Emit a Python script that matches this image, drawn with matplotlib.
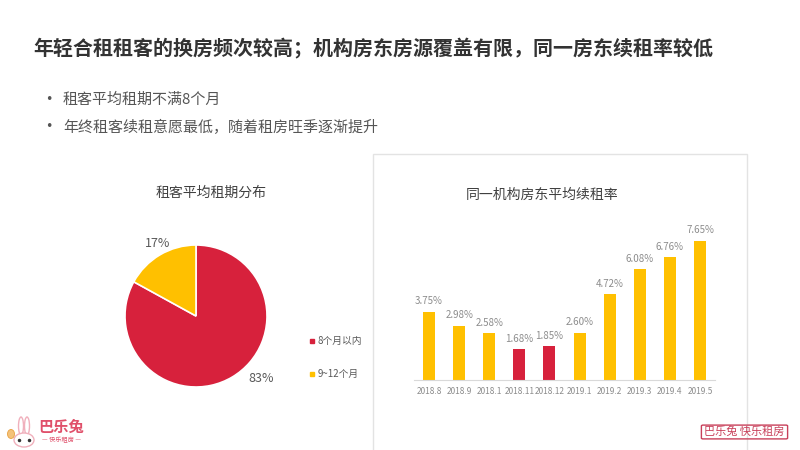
import matplotlib
matplotlib.use('Agg')
import matplotlib.pyplot as plt
from matplotlib.patches import Rectangle, FancyBboxPatch, Ellipse

plt.rcParams['font.family'] = ['Noto Sans CJK SC', 'DejaVu Sans']

RED = '#D7213C'
YEL = '#FFC000'
GRAY = '#8c8c8c'
PINK = '#E0506A'

title = '年轻合租租客的换房频次较高；机构房东房源覆盖有限，同一房东续租率较低'
bullets = ['租客平均租期不满8个月', '年终租客续租意愿最低，随着租房旺季逐渐提升']

pie_title = '租客平均租期分布'
pie_labels = ['8个月以内', '9~12个月']
pie_values = [83, 17]

bar_title = '同一机构房东平均续租率'
months = ['2018.8', '2018.9', '2018.1', '2018.11', '2018.12',
          '2019.1', '2019.2', '2019.3', '2019.4', '2019.5']
rates = [3.75, 2.98, 2.58, 1.68, 1.85, 2.60, 4.72, 6.08, 6.76, 7.65]
low_months = ['2018.11', '2018.12']

W, H = 800, 450
fig = plt.figure(figsize=(8, 4.5), dpi=100)
fig.patch.set_facecolor('white')

def px(x, y):
    return x / W, 1 - y / H

# title and bullets
fig.text(*px(33, 48), title, fontsize=14.4, fontweight='bold', color='#333333', va='center')
for i, b in enumerate(bullets):
    fig.text(*px(49, 100 + 27 * i), '•', fontsize=9, color='#555555', va='center',
             ha='center', family='DejaVu Sans')
    fig.text(*px(63, 100 + 27 * i), b, fontsize=10.8, color='#555555', va='center')

# right panel frame
fig.patches.append(Rectangle(px(373, 460), 374 / W, 306 / H, transform=fig.transFigure,
                             fill=False, edgecolor='#e3e3e3', lw=1))

# pie
r = 71
pax = fig.add_axes([(196 - r) / W, (H - 316 - r) / H, 2 * r / W, 2 * r / H])
pax.pie(pie_values, colors=[RED, YEL], startangle=90, counterclock=False,
        wedgeprops=dict(edgecolor='white', linewidth=1.2))
pax.set_xlim(-1, 1)
pax.set_ylim(-1, 1)
pax.set_aspect('equal')
fig.text(*px(211, 193), pie_title, fontsize=10, color='#404040', ha='center', va='center')
fig.text(*px(158, 243), '%d%%' % pie_values[1], fontsize=9, color='#595959', ha='center', va='center')
fig.text(*px(261, 379), '%d%%' % pie_values[0], fontsize=9, color='#595959', ha='center', va='center')
for i, (lab, c) in enumerate(zip(pie_labels, [RED, YEL])):
    y = 341 + 33 * i
    fig.patches.append(Rectangle(px(310, y + 2), 4 / W, 4 / H, transform=fig.transFigure,
                                 color=c))
    fig.text(*px(318, y), lab, fontsize=7, color='#595959', va='center')

# bars
bax = fig.add_axes([414 / W, (H - 380) / H, 301 / W, (8.5 * 18.2) / H])
colors = [RED if m in low_months else YEL for m in months]
xs = range(len(months))
bax.bar(xs, rates, width=0.4, color=colors)
for x, v in zip(xs, rates):
    bax.text(x, v + 0.3, '%.2f%%' % v, ha='center', va='bottom', fontsize=7, color=GRAY)
bax.set_xlim(-0.5, len(months) - 0.5)
bax.set_ylim(0, 8.5)
bax.set_xticks(list(xs))
bax.set_xticklabels(months, fontsize=6, color=GRAY)
bax.tick_params(axis='x', length=0, pad=5)
bax.set_yticks([])
for s in ['top', 'right', 'left']:
    bax.spines[s].set_visible(False)
bax.spines['bottom'].set_color('#d9d9d9')
fig.text(*px(542, 195), bar_title, fontsize=10, color='#404040', ha='center', va='center')

# logos
lax = fig.add_axes([4 / W, 0, 32 / W, 38 / H])
lax.set_xlim(0, 32)
lax.set_ylim(38, 0)
lax.axis('off')
lax.add_patch(Ellipse((17, 14), 5, 18, fill=False, edgecolor='#f0b0bc', lw=1))
lax.add_patch(Ellipse((23, 14), 5, 18, fill=False, edgecolor='#f0b0bc', lw=1))
lax.add_patch(Ellipse((20, 28), 20, 14, facecolor='white', edgecolor='#f0b0bc', lw=1))
lax.plot([15, 25], [28, 28], 'o', ms=1.5, color='#333333')
lax.add_patch(Ellipse((7, 22), 7, 9, facecolor='#F4C27A', edgecolor='#E8A040', lw=0.6))
fig.text(*px(61, 427), '巴乐兔', fontsize=11, fontweight='bold', color=PINK, ha='center', va='center')
fig.text(*px(61, 440), '— 快乐租房 —', fontsize=4.5, color=PINK, ha='center', va='center')
fig.patches.append(FancyBboxPatch(px(703, 438), 83 / W, 12 / H, transform=fig.transFigure,
                                  boxstyle='round,pad=0.002', fill=False,
                                  edgecolor='#C8405A', lw=1))
fig.text(*px(744.5, 432), '巴乐兔 快乐租房', fontsize=8, color='#C8405A',
         ha='center', va='center')

fig.savefig('out.png', dpi=100)
